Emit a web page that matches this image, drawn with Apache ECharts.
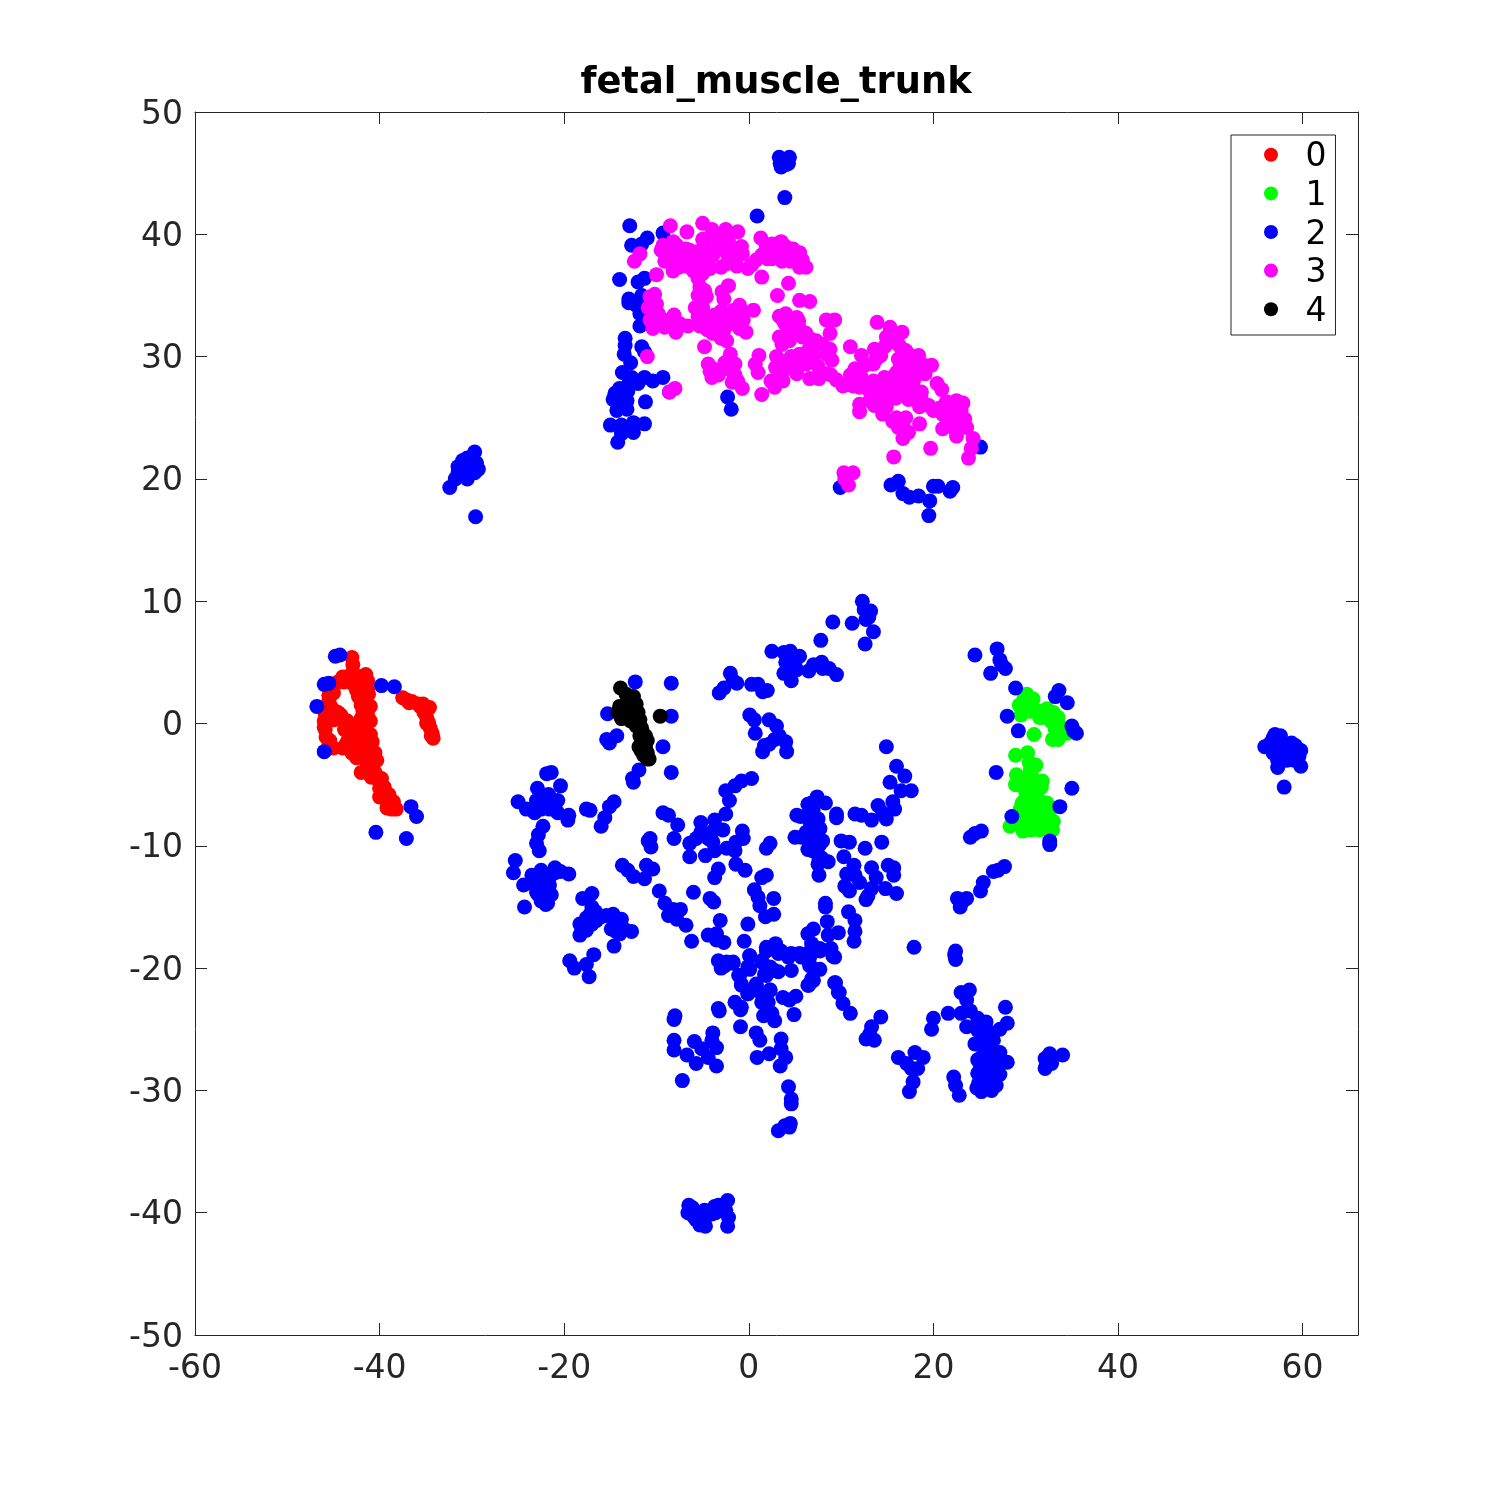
<!DOCTYPE html>
<html><head><meta charset="utf-8">
<script src="https://cdn.jsdelivr.net/npm/echarts@6/dist/echarts.min.js"></script>
<style>html,body{margin:0;padding:0;background:#fff}#c{width:1500px;height:1500px}</style>
</head><body><div id="c"></div>
<script>
const chartTitle = 'fetal_muscle_trunk';
const seriesNames = ['0','1','2','3','4'];
const seriesColors = ['#ff0000','#00ff00','#0000ff','#ff00ff','#000000'];
const cluster0 = [[-37.5,2.1],[-36.5,1.8],[-35.8,1.6],[-35,1.2],[-34.6,1.3],[-34.9,0.5],[-34.7,0.1],[-34.5,-0.4],[-34.3,-0.8],[-34.2,-1.2],[-43,5.4],[-42.9,4.8],[-44.5,3.4],[-44,3.8],[-43.3,3.9],[-42.5,3.9],[-41.5,4],[-41.3,3.5],[-43,3.3],[-42,3.2],[-45,2.5],[-45.5,1.9],[-45.7,1.2],[-42.5,2.7],[-41.3,2.8],[-41.5,2],[-42,1.5],[-41,1.4],[-41.3,0.7],[-42,0.4],[-46,0.2],[-45.9,-0.5],[-45.5,0.6],[-44.5,0.9],[-44,0.4],[-43.8,-0.5],[-45.8,-1.1],[-45.5,-1.8],[-45,-2],[-44,-2],[-43.5,-1.5],[-43,-1],[-42.5,-0.5],[-42,-1],[-41.5,-1.2],[-41,-0.9],[-42.8,-2],[-42,-2],[-41,-2],[-40.5,-2.4],[-42.5,-2.8],[-41.5,-3],[-40.7,-3.2],[-42,-4],[-41,-3.7],[-40.5,-4],[-40,-4.8],[-39.8,-4.5],[-40,-5.3],[-39.4,-5.7],[-40,-6],[-39,-6.5],[-38.7,-7],[-38.2,-7],[-39,-6],
[-42,3.8],[-42.8,3.4],[-41.7,3],[-42.3,2.2],[-41.2,2.4],[-41.8,1],[-41.4,1.2],[-42.2,0],[-41,0.2],[-41.6,-0.4],[-40.8,-1.5],[-41.3,-1.7],[-42.2,-1.5],[-42.6,-1.5],[-43.3,-2],[-43,-2.4],[-41.8,-2.5],[-41,-2.6],[-40.3,-3],[-41.2,-3.4],[-40.9,-4.4],[-40.3,-4.3],[-39.8,-5],[-39.5,-5.2],[-39,-5.8],[-38.5,-6.4],[-38.7,-6.8],[-39.2,-6.9],[-45.3,1.4],[-45.9,0.8],[-46,-0.3],[-45.4,-1.4],[-45,0.3],[-44.8,1],[-44.2,0.7],[-43.5,0.2],[-43.7,-1.8],[-45.2,3],[-43.9,3.4],[-45.5,2.3],[-36.8,1.7],[-35.6,1.4],[-35.2,0.9],[-34.9,0],[-34.4,-1],[-35.3,1.6],[-37,1.9]];
const cluster1 = [[29.3,1.5],[30.1,2.4],[30.8,2.0],[29.5,0.7],[30,1.5],[31,1],[31.5,0.5],[32.3,1.2],[33,0.9],[33.5,0.5],[32.7,0.2],[33.6,-0.1],[33.5,-1.3],[32.9,-1.3],[34.5,-0.8],[30.9,-0.9],[28.9,-2.6],[30.2,-2.4],[30.4,-3.2],[31.1,-3.4],[29,-4.2],[30.2,-4.5],[31,-4.8],[31.8,-4.7],[28.9,-5],[30,-5.6],[31.3,-5.5],[31.7,-5.2],[29.9,-6.3],[30.7,-6.5],[31.5,-6.3],[32.3,-6.5],[29.4,-7],[30,-7.3],[30.9,-7.3],[31.5,-7.2],[32.4,-7.5],[29.5,-7.9],[30.6,-8],[31.6,-8],[32.5,-8.2],[28.3,-8.4],[29.7,-8.8],[30.6,-8.7],[31.5,-8.7],[32.9,-8.7],
[30.5,1],[30.5,1.7],[29.8,2],[31.5,1],[32,0.5],[32.7,0.8],[33,0.2],[33.2,-0.5],[30,-5],[30.6,-4.2],[30.5,-5.2],[31.2,-6],[30.4,-7],[31,-6.8],[29.8,-8],[30.3,-8.3],[31,-8.3],[32,-7.8],[32,-7],[31.2,-7.8],[29.6,-6.5],[29.5,-4.8],[30.5,-3.8],[32.7,-7],[33,-8]];
const cluster2 = [[-12.9,40.7],[-11,39.7],[-12.7,39.1],[-11.6,39.2],[-9.3,40.1],[0.9,41.5],[3.9,43],[-14,36.3],[-12,36.1],[-11.3,36.4],[-13,34.7],[-13,34.4],[-11.6,35],[-12.2,34.2],[-11.8,33.5],[-11.8,32.5],[-13.4,31.5],[-13.4,30.9],[-13.5,30.2],[-12.8,29.5],[-11.6,30.8],[-11.3,30.4],[-13.7,28.7],[-12.7,28.3],[-11.3,28.3],[-9.3,28.3],[-10.4,28],[-12,27.8],[-13.1,27.2],[-14.5,27],[-14.3,26.4],[-8.6,27.1],[-13.2,26.4],[-11.2,26.3],[-14.3,25.6],[-13.2,25.7],[-13.8,26.1],[-15,24.4],[-13.8,24.4],[-12.5,24.6],[-11.3,24.5],[-12.5,23.8],[-13.8,23.7],[-14.2,23],[-2.3,26.7],[-1.9,25.7],[25.1,22.6],[9.9,19.3],[15.4,19.5],[16.2,19.8],[16.7,18.8],[17.4,18.5],[18.4,18.6],[19.6,18.2],[19.5,17],[20,19.4],[20.5,19.4],[21.8,19],[22.1,19.3],
[-14,27.4],[-13.8,26.7],[-12.4,28],[-13,27.8],[-14.7,26.5],[-13.4,27],
[3.3,46.3],[4.4,46.3],[3.4,45.8],[4.3,45.8],[3.5,45.5],[4,45.7],
[-32.4,19.3],[-31.8,20],[-31.5,21],[-31,20.3],[-31,21.5],[-30.5,20],[-30.3,21.2],[-30,21.8],[-29.7,22.2],[-29.5,21.3],[-29.3,20.8],[-29.7,20.5],[-30.5,21.7],[-31.5,20.5],[-29.6,16.9],
[-44.3,5.6],[-44.8,5.5],[-46,3.2],[-45.5,3.3],[-46.8,1.4],[-46,-2.3],[-39.8,3.1],[-38.4,3],[-36.6,-6.8],[-36,-7.6],[-40.4,-8.9],[-37.1,-9.4],
[-12.3,3.4],[-8.4,3.3],[-8.4,0.6],[-15.3,0.8],[-14.3,-1],[-15.4,-1.3],[-15.1,-1.6],[-9.3,-1.9],[-8.4,-4],[-11.9,-3.8],[-12.5,-4.8],[-12.6,-4.5],
[-21.4,-4],[-21.9,-4.1],[-20.4,-5.1],[-22.9,-5.3],[-25,-6.4],[-24.1,-7],[-21.7,-5.8],[-23,-6.3],[-20.7,-6.3],[-22.3,-6.7],[-23.2,-7.3],[-21.6,-7],[-20.7,-7.3],[-19.5,-7.5],[-19.6,-7.9],[-22.3,-8.4],[-22.8,-9.1],[-23,-9.8],[-22.7,-10.4],[-17.6,-7],[-17.2,-7.1],[-14.6,-6.4],[-15.1,-6.8],[-15.6,-7.7],[-16,-8.4],[0.3,-4.5],[-0.8,-4.7],[-1.5,-5.1],[-2.5,-5.5],[-2.1,-6.3],[-9.3,-7.3],[-8.7,-7.5],[-7.7,-8.3],[-8.1,-9.4],[-10.7,-9.4],[-10.6,-10.1],[-10.9,-9.6],[-5.2,-8.1],[-5.2,-8.9],[-2.5,-7.4],[-3.7,-7.9],[-2.8,-8.7],[-3.9,-8.8],[-0.7,-8.8],[-0.6,-9.4],[-1.4,-9.7],[-2.4,-10.2],[-1.5,-10.4],[-6.4,-9.8],[-5.7,-9.4],[-4.4,-9.4],[-3.9,-9.7],[-3.7,-10.4],[-4.7,-10.8],[-6.4,-10.9],[-1.4,-11.5],[-0.4,-12],[2.3,-9.8],[1.9,-10.2],[-3.3,-11.9],[-3.7,-12.6],[1.9,-12.4],[1.4,-12.6],[-13.7,-11.6],[-13.1,-12],[-12.5,-12.5],[-11.1,-11.6],[-10.4,-11.9],[-11.3,-12.7],[-9.7,-13.7],[-9.1,-14.7],[-8.2,-15.2],[-7.4,-15.2],[-8.7,-15.7],[-7.8,-16],[-6.8,-16.5],[-6.2,-17.8],[-6,-13.8],[-4.2,-14.3],[-3.8,-14.6],[0.6,-13.6],[1,-14.2],[2.7,-14.3],[1.2,-14.9],[2.7,-15.6],[1.8,-15.8],[-3.1,-16.1],[-0.1,-16.4],[-4.4,-17.3],[-3.5,-17.2],[-2.7,-17.9],[-3.5,-17.7],[-0.5,-17.8],[1.9,-18.3],[2.9,-18],[3.5,-18.6],[4.6,-18.8],[4.6,-20.2],[5.7,-19.1],[6.4,-18.8],[6.6,-19.7],[7.7,-20.1],[6.4,-17.2],[7,-16.8],[6.8,-18],[7.7,-18.4],[8.6,-17.3],[9.7,-17.1],[8.9,-18.4],[9.3,-19.1],[6.5,-21.4],[6.8,-20.9],[8.5,-16.2],[8.3,-14.7],[8.3,-15],[10.8,-15.4],[11.5,-16.1],[11.5,-17],[11.4,-17.8],[17.9,-18.3],[-3.3,-19.4],[-2.4,-19.5],[-1.7,-19.5],[-3,-20],[0.1,-19],[1.4,-19.4],[0.1,-20.1],[2.8,-20.2],[1.9,-20.6],[-1.1,-20.6],[-0.8,-21.3],[0.8,-21.3],[2.3,-21.8],[-0.1,-22.1],[1.4,-22.1],[1.9,-22.7],[3.7,-22.4],[5.1,-22.3],[-1.5,-22.8],[-0.8,-23.2],[9.3,-21.2],[9.8,-22],[10.2,-22.9],[-3.3,-23.3],
[-22,-6.2],[-21.2,-6.5],[-22.5,-7],[-22.6,-6],[-21,-6.9],
[16,-3.5],[16.9,-4.3],[15.3,-4.8],[17.6,-5.5],[16.5,-5.5],[7.4,-6],[8.3,-6.5],[6.4,-6.6],[6.96,-7.1],[9.5,-7.4],[9.5,-7.7],[5.2,-7.5],[6.4,-7.5],[7.5,-7.8],[7,-8.3],[7.7,-8.6],[5,-9.3],[5.7,-9.3],[7.3,-9.3],[8,-9.6],[6.4,-10.3],[7.3,-10.4],[7.9,-11],[8.6,-11.3],[7.5,-11.5],[7.6,-12.4],[11.5,-7.4],[12.2,-7.5],[13.3,-7.9],[14,-6.7],[14.5,-7.3],[15.6,-6.4],[15.8,-7],[14.9,-7.8],[10,-9.6],[10.9,-9.7],[12.6,-10.2],[14.4,-9.7],[10.3,-10.9],[11.4,-11.6],[13.3,-11.8],[15.1,-11.6],[15.7,-11.8],[15.7,-12.4],[10.6,-12.3],[11.5,-12.4],[13.8,-12.6],[12,-13],[10.4,-13.3],[10.9,-13.7],[13.3,-13.5],[14.8,-13.5],[12.9,-14.1],[12.7,-14.4],[16,-13.9],
[6.8,-6.5],[7.1,-7.6],[6.6,-8],[6.7,-8.8],[7,-9.8],[6.9,-10.4],[7.7,-9.9],[6.6,-9.4],[7.3,-8],[6.2,-8.9],[5.6,-7.6],[7.6,-11],
[-25.3,-11.2],[-25.5,-12.2],[-23.5,-12.4],[-24.4,-13.2],[-22.5,-12],[-21,-11.8],[-19.5,-12.3],[-23.4,-13.1],[-22.5,-13],[-21.6,-12.6],[-23,-13.8],[-22.3,-13.5],[-21.4,-14],[-22.5,-14.5],[-21.8,-14.7],[-24.3,-15],[-17,-13.9],[-18,-14.3],[-17,-15],[-15.4,-15.7],[-14.7,-15.6],[-13.8,-16],[-18.3,-16.4],[-17.4,-16.1],[-16.5,-16.1],[-14.9,-16.8],[-17.6,-16.9],[-18.3,-17.3],[-14,-17.2],[-12.7,-17],[-14.6,-18.2],[-16.8,-18.9],[-19.4,-19.4],[-18.9,-20],[-17.6,-19.7],[-17.3,-20.7],
[-23,-12.6],[-22.8,-13.2],[-22,-12.4],[-22,-13.4],[-22.8,-14],[-21.8,-13.8],[-22.2,-14.2],[-21.6,-13.2],[-23.2,-12.8],[-21,-12.2],[-20.4,-12.1],[-22,-14.8],[-17.8,-16.6],[-17,-16.4],[-17.2,-15.6],[-16.6,-15.4],[-16,-15.8],[-17.6,-15.9],[-18.1,-17],[-14.4,-16.4],[-14.4,-17],[-13.5,-16.8],
[-1.7,-19.6],[-2.6,-19.8],[0.1,-19],[-0.1,-19.9],[1.4,-19.5],[1.9,-18.6],[3.2,-20.3],[2.3,-19.9],[1.7,-20.5],[3.2,-18.8],[4.3,-19.1],[5.5,-18.8],[6.6,-19.1],[7.7,-18.6],[9.1,-19],[6.6,-19.8],[7,-21],[6.4,-21.4],[9.4,-21.2],[9.7,-22],[11,-23.7],[14.3,-24],[13.3,-24.8],[13.1,-25.4],[12.7,-25.8],[13.6,-25.9],[-1,-20.6],[-0.8,-21.4],[-0.1,-22.1],[0.8,-21.4],[2.3,-21.8],[1.6,-22.2],[2.1,-22.8],[1.4,-22.8],[4.4,-22.6],[-0.9,-23.4],[-3.2,-23.5],[1.6,-23.9],[2.5,-23.7],[2.8,-24.3],[4.9,-23.8],[-0.9,-24.8],[0.8,-25.3],[1.2,-25.9],[3.5,-25.8],[3.5,-26.6],[2.2,-27],[0.9,-27.3],[4,-27.3],[3.4,-28],[4.3,-29.7],[4.6,-30.7],[4.6,-31.1],[4.5,-32.7],[4.4,-33],[3.9,-32.9],[3.2,-33.3],[-8,-23.9],[-8.1,-24.2],[-8.1,-25.9],[-8.1,-26.7],[-5.9,-26],[-6.7,-27.1],[-5.7,-27.8],[-3.9,-25.3],[-4,-25.9],[-3.5,-26.5],[-5.1,-26.6],[-4.4,-27.3],[-3.5,-28],[-7.2,-29.2],[20,-24.1],[19.8,-25],[21.6,-23.7],[23,-22],[23.9,-21.8],[23.6,-22.6],[23,-23.7],[24,-23.5],[23.6,-24.8],[24.8,-24.1],[25.7,-24.4],[27.8,-23.2],[28,-24.5],[27.2,-25],[24.8,-25.1],[25.9,-25.2],[24.5,-26.2],[25.4,-25.9],[26.5,-25.9],[25.7,-26.6],[27.2,-26.9],[26.5,-27.1],[24.8,-27.5],[28,-27.7],[26.6,-28],[24.8,-28.6],[27.2,-28.7],[26.1,-28.8],[26.8,-29.6],[24.7,-29.8],[25.2,-30.1],[25.9,-29.7],[22.2,-28.9],[22.4,-29.6],[22.8,-30.4],[16.2,-27.3],[18,-26.9],[18.9,-27.3],[17.1,-27.8],[18.3,-28.2],[17.6,-28.2],[17.8,-29.3],[17.4,-30.1],[34,-27.1],[32.6,-27],[32.1,-28.2],[32.8,-27.8],[32.1,-27.4],[32.2,-28],
[25.5,-26],[26,-26.4],[26,-27],[25.3,-27.2],[26.2,-27.6],[26.5,-28.4],[25.8,-28.4],[26,-29.2],[25.2,-29.4],[26.3,-30],[25.5,-28.9],[26.8,-27.9],[24.9,-29.4],[26.4,-25.3],[25.3,-25.4],[25.1,-28],
[9.1,8.3],[12.3,10],[12.5,9.3],[13.2,9.2],[13,8.7],[12.7,8.5],[11.2,8.2],[13.5,7.5],[12.6,6.5],[7.8,6.8],[2.5,5.9],[3.8,5.8],[4.5,5.9],[5.5,5.5],[5,5],[4,5],[3.8,4.1],[5.2,4.4],[6.5,4.3],[7,4.8],[7.9,5],[8,4.5],[8.7,4.5],[9.5,4],[4.6,3.5],[-3.2,2.5],[-2.7,2.9],[-2,4.1],[-1.7,3.5],[-1.3,3.3],[0.3,3.2],[1,3.2],[1.5,2.6],[2,2.7],[0.1,0.7],[0.6,0.3],[2.2,0.3],[3,-0.2],[0.7,-0.8],[3.3,-1],[2.8,-1.3],[1.7,-1.8],[2.2,-1.7],[1.5,-2.3],[4,-1.5],[4.1,-2.3],[14.9,-1.9],
[24.5,5.6],[26.9,6.1],[27.2,5.2],[27.4,4.8],[27.8,4.5],[26.2,4.1],[28.9,2.9],[33.6,2.7],[33.2,2.2],[34.5,1.7],[28,0.6],[29.2,-0.6],[35,-0.2],[35.2,-0.6],[35.5,-0.8],[26.8,-4],[35,-5.3],[33.7,-6.8],[28.5,-7.6],[32.6,-9.6],[32.6,-9.9],[24.5,-9],[24,-9.3],[25.2,-8.8],[26.5,-12.1],[27,-12],[27.7,-11.7],[25.4,-13],[25.1,-13.7],[22.6,-14.3],[23.6,-14.3],[23.2,-14.5],[22.9,-15],[22.4,-18.6],[22.4,-19.3],[22.3,-18.9],
[55.9,-1.9],[56.5,-1.6],[56.8,-1.2],[57,-0.9],[57.6,-1],[57.3,-1.8],[58,-1.7],[58.8,-1.6],[59.2,-1.8],[56.8,-2.4],[57.5,-2.5],[58.2,-2.3],[59,-2.4],[59.8,-2.2],[59.6,-2.7],[57.3,-3],[58.3,-3],[59.1,-3],[59.8,-3.5],[57.3,-3.6],[58,-5.2],
[-6.5,-39.4],[-6.6,-40],[-6.1,-39.6],[-5.7,-40],[-5.2,-40],[-4.8,-39.8],[-4.8,-40.5],[-5.3,-41],[-4.7,-41.1],[-5.7,-40.6],[-6,-40.3],[-3.7,-39.5],[-3.3,-39.4],[-2.3,-39],[-2.5,-39.8],[-2.2,-40.4],[-2.3,-41.1],[-4,-40.1],[-3.6,-40],[-5,-40.7],[-5.5,-40.2],[-6.2,-40],[-4.5,-40.2],[-5.9,-39.9]];
const cluster3 = [[-8.5,40.7],[-6.7,40.2],[-5,40.9],[-4,40.4],[-2.5,40.4],[-1.2,40.2],[1.3,39.7],[2.5,39.2],[3.5,39.4],[4.8,38.8],[5.5,38.5],[-9.3,39.1],[-7.8,39.1],[-9.5,38.7],[-8.4,38.4],[-6.4,38.7],[-4,39.2],[-2.2,39.4],[-0.8,39],[-2.4,38.5],[-3.9,38.3],[-5.3,38.1],[-6.8,37.4],[-8.6,37.9],[-8.2,37],[-4.2,37.2],[-2.4,37.6],[-1.3,37.4],[-0.1,37.2],[0.8,37.9],[1.9,39],[3,38.1],[3.9,38.3],[5.2,38.1],[5.5,37.3],[6.2,37.3],[1.4,36.5],[-10,36.7],[-11.8,38.4],[-12.4,37.8],[-5.5,36.4],[-5.3,35.7],[-4.6,34.9],[-2.2,35.8],[-2.7,34.7],[4.3,36],[3.1,35],[5.5,34.6],[6.6,34.5],[-10.2,35.1],[-10.7,34.9],[-10.9,34],[-9.8,33.5],[-10.7,33],[-10.4,32.3],[-9.1,32.4],[-8.1,33.4],[-7.9,32],[-6.6,32.5],[-5.8,34],[-5.3,32.5],[-3.7,33.4],[-2.4,33.5],[-1,34.2],[0.5,33.8],[-0.6,33],[-1.9,32.7],[-3.9,31.9],[-2.4,31.3],[-0.3,32],[-4.8,30.8],[3.7,33],[5.2,33.2],[4.4,32.4],[5.5,32.3],[3.3,31.6],[4.4,31.3],[6.2,31.9],[8.4,33],[9.3,33],[8.8,31.9],[7.3,31.3],[7,30.8],[8.8,30.6],[11,30.8],[13.9,32.8],[15.3,32.4],[16.6,32],[14.9,31.6],[14.7,30.8],[13.6,30.6],[16.3,30.9],[12.2,30.1],[13.8,29.8],[-2,30.2],[1.1,30.1],[-4.4,29.4],[-2.6,29.5],[-1.5,29.4],[0.7,29.4],[3,30],[5.5,30.2],[7,30],[9,29.7],[-4,28.3],[-3.3,28.5],[-1.5,28.5],[1,28.7],[3.2,29],[4.4,29.3],[5.2,28.6],[6.6,28.2],[6.2,29.4],[8.4,28.6],[10.2,27.6],[-1.2,28],[-0.7,27.4],[1.4,26.9],[2.8,27.5],[3.7,28],[11.3,27.6],[11.5,29],[12.6,29.3],[12.2,28.3],[13.5,28],[14.7,28.3],[14.4,27.1],[16.2,29.8],[17.3,30.2],[18.4,30.1],[19.8,29.3],[16.4,29.1],[17.4,28.9],[19.1,28.6],[16.5,28.3],[17.8,27.9],[18.7,27.1],[16.2,27],[17.3,26.5],[20.4,27.8],[20.9,27.3],[13.1,26.4],[12,26.1],[12,25.5],[14.9,25.9],[14.5,25.3],[18.5,25.9],[20,25.6],[21.4,26.3],[22.5,26.4],[23.2,26.2],[21,25.3],[22.1,25.3],[23.4,24.9],[21,24.1],[22.1,24.2],[23.6,24.2],[22.5,23.5],[18.5,24.5],[15.6,24.7],[16.7,24.4],[17.3,23.8],[16.7,23.3],[24.3,23.3],[24.1,22.5],[23.8,21.7],[19.7,22.5],[15.7,21.8],[10.3,20.5],[11.3,20.5],[10.8,19.5],[10.4,20],[-11,30],[-8.6,27.1],[-8,27.4],
[-8.9,39],[-8.2,39.4],[-7.5,38.5],[-7,38],[-6.2,38],[-5.5,38.6],[-4.7,38.4],[-4.5,37.7],[-3.5,38.8],[-3.2,39.6],[-3.8,40],[-2,38.9],[-1.6,38.2],[-7.6,37.3],[-6,37],[-5,36.8],[-5.7,37.6],[-3,37.3],[0.3,37.5],[1.4,38.3],[2,38],[2.5,38],[3,39],[4,39],[4.5,37.8],[5.8,37.9],[3.6,37.8],[-2.9,35.3],[-4.8,35.4],[-5.5,35],[-5,34],[-5.5,33.3],[-4.5,33],[-3.2,32.8],[-3.5,32.3],[-3,33.7],[-2,33],[-1.6,33.8],[-0.6,33.6],[-1,32.3],[-2.7,32.2],[-4.5,32.2],[-3,31.5],[-10.5,34.4],[-10,34.3],[-9.2,33],[-8.5,32.7],[-10,32.6],[-7.5,32.7],[3.3,33.3],[4,33.5],[3.9,32.7],[5,32],[5.4,32.9],[4.6,31.8],[5.8,31.6],[6.8,31.4],[8,31],[8.4,30.2],[3.6,31],[4,29],[3.5,28.4],[5,29.6],[5.9,29.8],[6.5,30.6],[4.6,30],[7.5,29.2],[7.7,28.6],[7.6,28.2],[8.9,28.5],[9.5,28.1],[3.6,29.6],[2.9,29.1],[2.4,28],[-4.2,28.8],[-3.9,29],[-2,28.9],[-2,29],[-1.8,27.9],[11,28.5],[12,27.5],[12.8,27.4],[13.5,27],[14,27.7],[14.2,26.4],[15,26.5],[15.5,27.5],[15.5,28.3],[16,28.7],[17,29.5],[17.8,29.7],[18.3,29],[18,28.3],[19,29.3],[16.8,27.5],[17.7,27.2],[17.8,26.6],[18.7,26.5],[19.5,26],[20.7,25.8],[21.4,25],[21.7,24.6],[22.8,25],[22.8,24.7],[22.3,24.8],[23,25.6],[21.6,26],[15.4,31.2],[14.3,30.1],[13.5,29.4],[17,30.5],[16,31.3],[16,25],[17,25],[16.2,24.2],[15.9,26.6],[13.6,26],[-5.2,37.9],[-9.1,37.8],[-7.5,38.3],[-6.8,38.8],[-0.7,38.4],[-5,39.6],[-3.7,39.7]];
const cluster4 = [[-13.9,2.9],[-13.3,2.4],[-12.5,2.2],[-12.6,1.5],[-14,1.4],[-14.2,0.9],[-13.5,0.8],[-13,1],[-12.4,0.8],[-12,0.9],[-11.8,0.3],[-13.8,0.4],[-12.8,0.2],[-12.2,-0.2],[-11.6,-0.4],[-11.2,-1],[-11,-1.4],[-11.8,-1],[-11.2,-1.9],[-11.9,-1.9],[-11,-2.4],[-11.4,-2.6],[-10.8,-2.9],[-11,-2.9],[-9.6,0.6],[-13.2,1.6],[-13,1.9],[-12.2,1.6],[-11.5,-0.8],[-11.3,-1.4],[-11.6,-1.6],[-11.7,-2.2]];
const clusters = [cluster0, cluster1, cluster2, cluster3, cluster4];

const axisColor = '#262626';
const chart = echarts.init(document.getElementById('c'), null, {renderer:'canvas'});
const axisBase = (pos, min, max, interval, labels) => {
  const vertical = pos==='left' || pos==='right';
  const label = {show:labels, color:axisColor, fontFamily:'DejaVu Sans', fontSize:33,
    margin: vertical ? 12 : 18};
  if (vertical) { label.verticalAlign = 'top'; label.lineHeight = 6; }
  if (pos==='bottom') label.showMaxLabel = false;
  return {
    type:'value', position:pos, min, max, interval, scale:true,
    splitLine:{show:false},
    axisLine:{show:true, onZero:false, lineStyle:{color:axisColor, width:1}},
    axisTick:{show:true, inside:true, length:12, lineStyle:{color:axisColor, width:1}},
    axisLabel:label
  };
};
chart.setOption({
  animation:false,
  backgroundColor:'#fff',
  title:{text:chartTitle, left:771, top:60, textAlign:'center',
    textStyle:{fontFamily:'DejaVu Sans', fontWeight:'bold', fontSize:36.8, color:'#000'}},
  grid:{left:195, top:112, width:1163, height:1223, containLabel:false},
  xAxis:[axisBase('bottom',-60,66,20,true), axisBase('top',-60,66,20,false)],
  yAxis:[axisBase('left',-50,50,10,true), axisBase('right',-50,50,10,false)],
  legend:{
    show:true, orient:'vertical', left:1231, top:135,
    padding:[6.3,9,6.3,33], itemGap:5.6, itemWidth:59, itemHeight:14, icon:'circle',
    borderColor:axisColor, borderWidth:1, backgroundColor:'#fff',
    data:seriesNames, selectedMode:false,
    formatter:'{a|{name}}',
    textStyle:{fontFamily:'DejaVu Sans', fontSize:33, color:'#000',
      rich:{a:{fontFamily:'DejaVu Sans', fontSize:33, color:'#000', padding:[6,0,0,0]}}}
  },
  series: clusters.map((d,i)=>({
    name:seriesNames[i], type:'scatter', data:d, symbol:'circle', symbolSize:15,
    itemStyle:{color:seriesColors[i], opacity:1}, xAxisIndex:0, yAxisIndex:0, silent:true
  }))
});
</script></body></html>
